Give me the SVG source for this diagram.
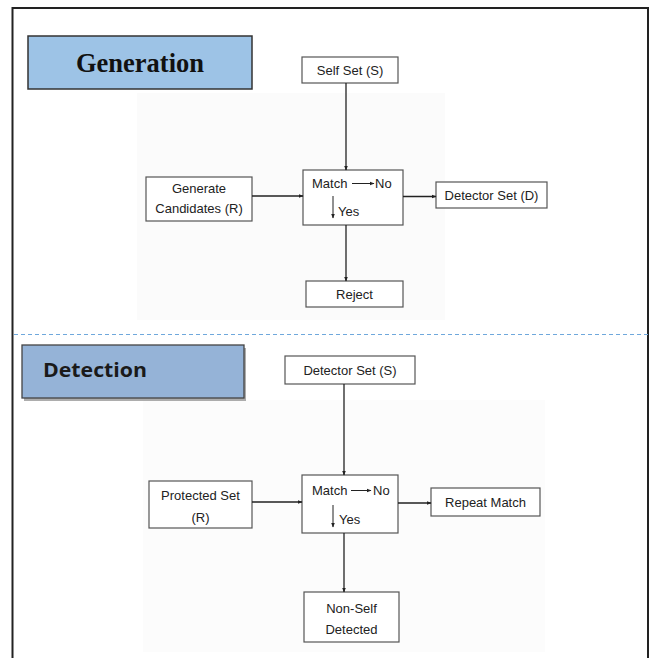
<svg xmlns="http://www.w3.org/2000/svg" width="650" height="658" viewBox="0 0 650 658">
<style>
.box{fill:#fff;stroke:#555;stroke-width:1.2}
.t{font-family:"Liberation Sans",Arial,sans-serif;font-size:13px;fill:#222}
.c{text-anchor:middle}
.ln{stroke:#222;stroke-width:1.3;fill:none}
.sm{stroke:#222;stroke-width:1;fill:none}
</style>
<defs>
<marker id="ah" viewBox="0 0 10 10" refX="9" refY="5" markerWidth="5" markerHeight="5" orient="auto" markerUnits="userSpaceOnUse">
<path d="M0,1 L10,5 L0,9 z" fill="#222"/>
</marker>
</defs>
<rect x="0" y="0" width="650" height="658" fill="#fff"/>
<rect x="137" y="93" width="308" height="227" fill="#fbfbfb"/>
<rect x="143" y="400" width="402" height="252" fill="#fcfcfc"/>
<path d="M12.5,658 V8 H648 V658" fill="none" stroke="#222" stroke-width="2"/>
<line x1="14" y1="334.5" x2="648" y2="334.5" stroke="#6fa8dc" stroke-width="1.2" stroke-dasharray="4,3"/>

<g id="generation">
<rect x="28" y="36" width="224" height="53" fill="#9dc3e6" stroke="#333" stroke-width="1.5"/>
<text x="140" y="72" text-anchor="middle" font-family="'Liberation Serif','Times New Roman',serif" font-weight="bold" font-size="26.5" fill="#111">Generation</text>
</g>
<g id="self-set">
<rect class="box" x="302" y="57" width="96" height="26"/>
<text class="t c" x="350" y="75">Self Set (S)</text>
</g>
<g id="generate-candidates">
<rect class="box" x="146" y="177" width="106" height="44"/>
<text class="t c" x="199" y="193">Generate</text>
<text class="t c" x="199" y="213">Candidates (R)</text>
</g>
<g id="match-gen">
<rect class="box" x="303" y="170" width="100" height="55"/>
<text class="t" x="312" y="188">Match</text>
<line class="sm" x1="352" y1="183.5" x2="374" y2="183.5" marker-end="url(#ah)"/>
<text class="t" x="375" y="188">No</text>
<line class="sm" x1="333" y1="196" x2="333" y2="218" marker-end="url(#ah)"/>
<text class="t" x="338" y="216">Yes</text>
</g>
<g id="detector-set-d">
<rect class="box" x="436" y="182" width="111" height="26"/>
<text class="t c" x="491.5" y="200">Detector Set (D)</text>
</g>
<g id="reject">
<rect class="box" x="306" y="281" width="97" height="26"/>
<text class="t c" x="354.5" y="299">Reject</text>
</g>

<g id="detection">
<rect x="24" y="348" width="222" height="53" fill="#777" opacity="0.6"/>
<rect x="22" y="345" width="222" height="53" fill="#95b3d7" stroke="#444" stroke-width="1.3"/>
<text x="43" y="377" font-family="'Open Sans','Liberation Sans',sans-serif" font-weight="bold" font-size="20" fill="#1a1a1a" textLength="104" lengthAdjust="spacingAndGlyphs">Detection</text>
</g>
<g id="detector-set-s">
<rect class="box" x="285" y="356" width="130" height="28"/>
<text class="t c" x="350" y="375">Detector Set (S)</text>
</g>
<g id="protected-set">
<rect class="box" x="149" y="481" width="103" height="47"/>
<text class="t c" x="200.5" y="500">Protected Set</text>
<text class="t c" x="200.5" y="522">(R)</text>
</g>
<g id="match-det">
<rect class="box" x="302" y="475" width="96" height="58"/>
<text class="t" x="312" y="495">Match</text>
<line class="sm" x1="351" y1="490.5" x2="371" y2="490.5" marker-end="url(#ah)"/>
<text class="t" x="373" y="495">No</text>
<line class="sm" x1="333" y1="505" x2="333" y2="527" marker-end="url(#ah)"/>
<text class="t" x="339" y="524">Yes</text>
</g>
<g id="repeat-match">
<rect class="box" x="431" y="488" width="109" height="28"/>
<text class="t c" x="485.5" y="507">Repeat Match</text>
</g>
<g id="non-self">
<rect class="box" x="304" y="592" width="95" height="50"/>
<text class="t c" x="351.5" y="613">Non-Self</text>
<text class="t c" x="351.5" y="634">Detected</text>
</g>

<g id="connectors">
<line class="ln" x1="346" y1="83" x2="346" y2="170" marker-end="url(#ah)"/>
<line class="ln" x1="252" y1="196" x2="303" y2="196" marker-end="url(#ah)"/>
<line class="ln" x1="403" y1="196.5" x2="436" y2="196.5" marker-end="url(#ah)"/>
<line class="ln" x1="346" y1="225" x2="346" y2="281" marker-end="url(#ah)"/>
<line class="ln" x1="344" y1="384" x2="344" y2="475" marker-end="url(#ah)"/>
<line class="ln" x1="252" y1="502" x2="302" y2="502" marker-end="url(#ah)"/>
<line class="ln" x1="398" y1="503" x2="431" y2="503" marker-end="url(#ah)"/>
<line class="ln" x1="344" y1="533" x2="344" y2="592" marker-end="url(#ah)"/>
</g>
</svg>
